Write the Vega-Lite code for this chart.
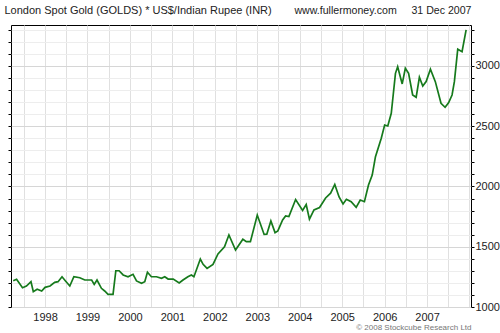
{
  "$schema": "https://vega.github.io/schema/vega-lite/v6.json",
  "width": 460,
  "height": 282,
  "autosize": "none",
  "padding": {"left": 11, "top": 25, "right": 29, "bottom": 26},
  "background": "white",
  "config": {"view": {"stroke": "#000", "strokeWidth": 1}, "font": "Liberation Sans"},
  "title": {"text": "London Spot Gold (GOLDS) * US$/Indian Rupee (INR)", "anchor": "start", "fontSize": 11, "fontWeight": "normal", "color": "#222", "font": "Liberation Sans", "offset": -11, "dx": -3},
  "data": {"values": [
    {"date": "1997-04-02", "price": 1218},
    {"date": "1997-05-01", "price": 1230},
    {"date": "1997-06-21", "price": 1160},
    {"date": "1997-07-25", "price": 1174},
    {"date": "1997-09-02", "price": 1210},
    {"date": "1997-09-22", "price": 1127},
    {"date": "1997-10-25", "price": 1147},
    {"date": "1997-12-03", "price": 1133},
    {"date": "1998-01-01", "price": 1163},
    {"date": "1998-02-13", "price": 1174},
    {"date": "1998-03-25", "price": 1205},
    {"date": "1998-04-23", "price": 1210},
    {"date": "1998-05-27", "price": 1251},
    {"date": "1998-06-26", "price": 1216},
    {"date": "1998-08-02", "price": 1174},
    {"date": "1998-09-06", "price": 1251},
    {"date": "1998-10-27", "price": 1243},
    {"date": "1998-12-09", "price": 1224},
    {"date": "1999-02-06", "price": 1224},
    {"date": "1999-02-28", "price": 1188},
    {"date": "1999-03-24", "price": 1224},
    {"date": "1999-05-01", "price": 1155},
    {"date": "1999-05-29", "price": 1133},
    {"date": "1999-06-27", "price": 1105},
    {"date": "1999-08-09", "price": 1105},
    {"date": "1999-09-02", "price": 1301},
    {"date": "1999-09-30", "price": 1301},
    {"date": "1999-11-04", "price": 1266},
    {"date": "1999-12-16", "price": 1251},
    {"date": "2000-01-28", "price": 1271},
    {"date": "2000-02-27", "price": 1216},
    {"date": "2000-04-10", "price": 1197},
    {"date": "2000-05-08", "price": 1210},
    {"date": "2000-05-31", "price": 1288},
    {"date": "2000-07-04", "price": 1251},
    {"date": "2000-08-17", "price": 1251},
    {"date": "2000-09-29", "price": 1238},
    {"date": "2000-10-27", "price": 1251},
    {"date": "2000-11-25", "price": 1232},
    {"date": "2001-01-08", "price": 1232},
    {"date": "2001-02-28", "price": 1199},
    {"date": "2001-04-02", "price": 1224},
    {"date": "2001-05-14", "price": 1251},
    {"date": "2001-06-13", "price": 1266},
    {"date": "2001-07-05", "price": 1251},
    {"date": "2001-08-29", "price": 1398},
    {"date": "2001-09-22", "price": 1354},
    {"date": "2001-10-26", "price": 1320},
    {"date": "2001-12-16", "price": 1354},
    {"date": "2002-01-28", "price": 1440},
    {"date": "2002-03-25", "price": 1500},
    {"date": "2002-05-02", "price": 1598},
    {"date": "2002-06-28", "price": 1473},
    {"date": "2002-08-30", "price": 1562},
    {"date": "2002-09-29", "price": 1542},
    {"date": "2002-11-03", "price": 1542},
    {"date": "2003-01-01", "price": 1763},
    {"date": "2003-03-01", "price": 1602},
    {"date": "2003-03-24", "price": 1604},
    {"date": "2003-04-28", "price": 1714},
    {"date": "2003-06-03", "price": 1617},
    {"date": "2003-06-27", "price": 1631},
    {"date": "2003-08-07", "price": 1722},
    {"date": "2003-09-02", "price": 1755},
    {"date": "2003-09-30", "price": 1751},
    {"date": "2003-11-27", "price": 1892},
    {"date": "2004-01-26", "price": 1801},
    {"date": "2004-02-26", "price": 1851},
    {"date": "2004-03-25", "price": 1729},
    {"date": "2004-05-03", "price": 1805},
    {"date": "2004-06-20", "price": 1826},
    {"date": "2004-08-11", "price": 1905},
    {"date": "2004-09-23", "price": 1944},
    {"date": "2004-10-29", "price": 2017},
    {"date": "2004-12-05", "price": 1913},
    {"date": "2005-01-08", "price": 1855},
    {"date": "2005-02-06", "price": 1894},
    {"date": "2005-03-19", "price": 1874},
    {"date": "2005-05-01", "price": 1827},
    {"date": "2005-06-05", "price": 1888},
    {"date": "2005-07-11", "price": 1874},
    {"date": "2005-08-15", "price": 2012},
    {"date": "2005-09-16", "price": 2095},
    {"date": "2005-10-14", "price": 2247},
    {"date": "2005-12-03", "price": 2400},
    {"date": "2006-01-01", "price": 2510},
    {"date": "2006-01-28", "price": 2502},
    {"date": "2006-02-27", "price": 2607},
    {"date": "2006-04-04", "price": 2939},
    {"date": "2006-04-23", "price": 2994},
    {"date": "2006-06-01", "price": 2851},
    {"date": "2006-06-28", "price": 2981},
    {"date": "2006-07-26", "price": 2939},
    {"date": "2006-08-30", "price": 2759},
    {"date": "2006-09-29", "price": 2740},
    {"date": "2006-10-27", "price": 2906},
    {"date": "2006-11-25", "price": 2834},
    {"date": "2006-12-24", "price": 2870},
    {"date": "2007-01-30", "price": 2973},
    {"date": "2007-03-13", "price": 2870},
    {"date": "2007-05-01", "price": 2690},
    {"date": "2007-06-05", "price": 2657},
    {"date": "2007-07-05", "price": 2695},
    {"date": "2007-08-04", "price": 2759},
    {"date": "2007-08-24", "price": 2870},
    {"date": "2007-09-22", "price": 3139},
    {"date": "2007-10-29", "price": 3119},
    {"date": "2007-12-03", "price": 3299}
  ]},
  "layer": [
    {
      "mark": {"type": "line", "color": "#167a1c", "strokeWidth": 1.7},
      "encoding": {
        "x": {
          "field": "date", "type": "temporal",
          "scale": {"domain": [{"year": 1997, "month": 3, "date": 14}, {"year": 2008, "month": 1, "date": 14}]},
          "axis": {
            "orient": "bottom",
            "tickCount": {"interval": "month", "step": 6},
            "labelExpr": "month(datum.value) === 0 && year(datum.value) < 2008 ? timeFormat(datum.value, '%Y') : ''",
            "ticks": false, "domain": false, "grid": true, "gridColor": "#e0e0e0",
            "labelFontSize": 11, "labelColor": "#222", "labelPadding": 4,
            "labelFlush": false, "labelOverlap": false,
            "title": "© 2008 Stockcube Research Ltd", "titleAnchor": "end",
            "titleFontSize": 8, "titleFontWeight": "normal", "titleColor": "#777", "titlePadding": 1
          }
        },
        "y": {
          "field": "price", "type": "quantitative",
          "scale": {"domain": [1000, 3340], "nice": false, "zero": false},
          "axis": {
            "orient": "right",
            "values": [1000,1100,1200,1300,1400,1500,1600,1700,1800,1900,2000,2100,2200,2300,2400,2500,2600,2700,2800,2900,3000,3100,3200,3300],
            "format": "d",
            "labelExpr": "datum.value % 500 === 0 ? datum.label : ''",
            "tickSize": 3, "tickColor": "#000", "domain": false,
            "grid": true,
            "gridColor": {"condition": {"test": "datum.value % 500 === 0", "value": "#d6d6d6"}, "value": "#ededed"},
            "labelFontSize": 11, "labelColor": "#222", "labelPadding": 1,
            "labelFlush": false, "labelOverlap": false, "title": null
          }
        }
      }
    },
    {
      "mark": {"type": "line", "opacity": 0},
      "encoding": {
        "x": {
          "field": "date", "type": "temporal",
          "scale": {"domain": [{"year": 1997, "month": 3, "date": 14}, {"year": 2008, "month": 1, "date": 14}]},
          "axis": {
            "orient": "top", "labels": false, "ticks": false, "domain": false, "grid": false,
            "title": "www.fullermoney.com\u00a0\u00a0\u00a0\u00a0\u00a031 Dec 2007",
            "titleAnchor": "end", "titleFontSize": 10.6, "titleFontWeight": "normal", "titleColor": "#222", "titlePadding": 10
          }
        },
        "y": {
          "field": "price", "type": "quantitative",
          "scale": {"domain": [1000, 3340], "nice": false, "zero": false},
          "axis": {
            "orient": "left",
            "values": [1000,1100,1200,1300,1400,1500,1600,1700,1800,1900,2000,2100,2200,2300,2400,2500,2600,2700,2800,2900,3000,3100,3200,3300],
            "labels": false, "tickSize": 3, "tickColor": "#000", "domain": false, "grid": false, "title": null
          }
        }
      }
    }
  ],
  "resolve": {"scale": {"x": "independent", "y": "independent"}}
}
